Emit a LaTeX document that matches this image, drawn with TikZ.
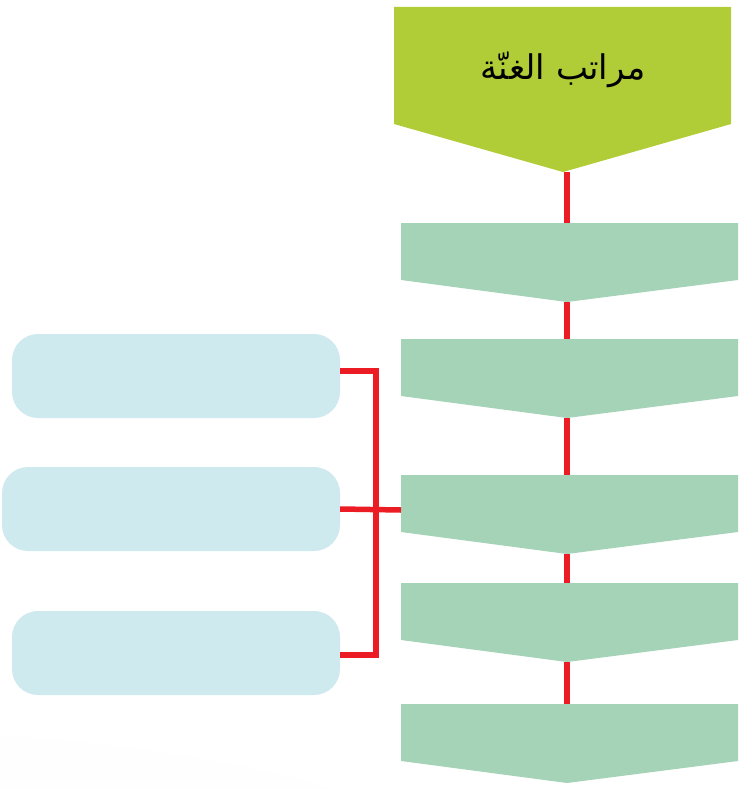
\documentclass[tikz,border=0pt]{standalone}
\usepackage{fontspec}
\newfontfamily\arabicfont[Script=Arabic]{DejaVu Sans}
\TeXXeTstate=1
\definecolor{topgreen}{HTML}{B0CC36}
\definecolor{stepgreen}{HTML}{A5D3B7}
\definecolor{linkred}{HTML}{EC1C24}
\definecolor{paleblue}{HTML}{CFEAEE}
\tikzset{
  topshape/.style={fill=topgreen},
  stepshape/.style={fill=stepgreen},
  bluebox/.style={fill=paleblue, rounded corners=26pt, inner sep=0pt},
  link/.style={draw=linkred, line width=5.5pt},
  bracket/.style={draw=linkred, line width=5.5pt}
}
\begin{document}
\begin{tikzpicture}[x=1pt,y=-1pt]
\useasboundingbox (0,0) rectangle (750,789);
% faint background sweep
\fill[black!0.5] (0,735) .. controls (150,745) and (280,770) .. (330,789) -- (0,789) -- cycle;
% title arrow
\fill[topshape] (394,7) -- (731,7) -- (731,124) -- (563,172) -- (394,124) -- cycle;
\coordinate (ttip) at (567,172);
\node[font=\arabicfont\fontsize{34}{38}\selectfont] (title) at (563,70) {\beginR مراتب الغنّة\endR};
% step arrows
\foreach \n/\t in {1/223,2/339,3/475,4/583,5/704}{
  \fill[stepshape] (401,\t) -- (738,\t) -- (738,\t+57) -- (567,\t+79) -- (401,\t+57) -- cycle;
  \coordinate (gtop\n) at (567,\t);
  \coordinate (gtip\n) at (567,\t+79);
  \coordinate (gleft\n) at (401,\t+35);
}
% vertical links
\draw[link] (ttip) -- (gtop1);
\draw[link] (gtip1) -- (gtop2);
\draw[link] (gtip2) -- (gtop3);
\draw[link] (gtip3) -- (gtop4);
\draw[link] (gtip4) -- (gtop5);
% blue boxes
\node[bluebox, minimum width=328pt, minimum height=84pt] (b1) at (176,376) {};
\node[bluebox, minimum width=338pt, minimum height=84pt] (b2) at (171,509) {};
\node[bluebox, minimum width=328pt, minimum height=84pt] (b3) at (176,653) {};
% bracket
\coordinate (j1) at (376,371);
\coordinate (j3) at (376,655);
\draw[bracket] (b1.east |- j1) -- (j1) -- (j3) -- (b3.east |- j3);
\draw[bracket] (b2.east) -- (gleft3);
\end{tikzpicture}
\end{document}
